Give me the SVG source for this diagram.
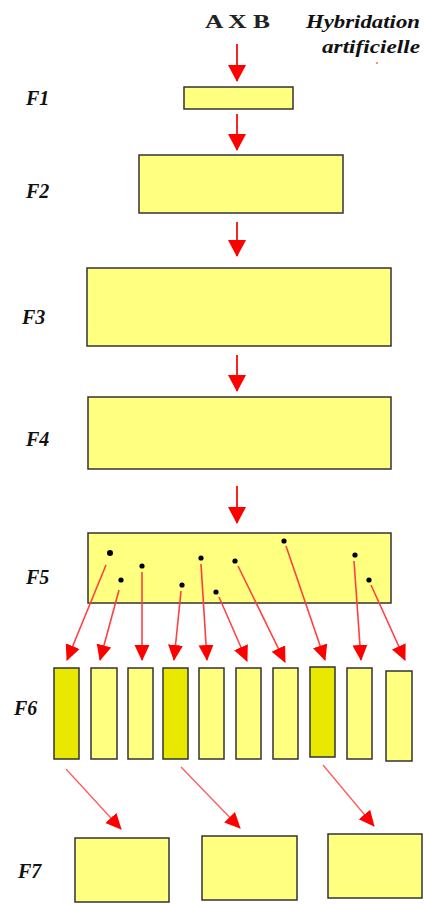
<svg xmlns="http://www.w3.org/2000/svg" width="424" height="904" viewBox="0 0 424 904">
<style>
.box{fill:#ffff80;stroke:#333;stroke-width:1.5}
.dark{fill:#e8e800;stroke:#333;stroke-width:1.5}
.lbl{font-family:"Liberation Serif",serif;font-weight:bold;font-style:italic;font-size:20px;fill:#111}
.main{stroke:#ff2020;stroke-width:2;fill:none;marker-end:url(#ah)}
.sel{stroke:#ff4040;stroke-width:1.6;fill:none;marker-end:url(#ah2)}
.thin{stroke:#ff5a5a;stroke-width:1.3;fill:none;marker-end:url(#ah2)}
.dot{fill:#000}
</style>
<defs>
<marker id="ah" markerWidth="20" markerHeight="20" refX="16" refY="10" orient="auto" markerUnits="userSpaceOnUse">
<path d="M0,1 L17,10 L0,19 Z" fill="#ff0000"/>
</marker>
<marker id="ah2" markerWidth="18" markerHeight="18" refX="15" refY="9" orient="auto" markerUnits="userSpaceOnUse">
<path d="M0,1.5 L16,9 L0,16.5 Z" fill="#ff0000"/>
</marker>
</defs>
<g id="title">
<text x="205" y="28" textLength="65" lengthAdjust="spacingAndGlyphs" font-family="'Liberation Serif',serif" font-weight="bold" font-size="19" fill="#222">A X B</text>
<text x="306" y="28" textLength="114" lengthAdjust="spacingAndGlyphs" font-family="'Liberation Serif',serif" font-weight="bold" font-style="italic" font-size="18" fill="#111">Hybridation</text>
<text x="322" y="53" textLength="98" lengthAdjust="spacingAndGlyphs" font-family="'Liberation Serif',serif" font-weight="bold" font-style="italic" font-size="18" fill="#111">artificielle</text>
<circle cx="377" cy="63" r="0.8" fill="#ff0000"/>
</g>
<g id="labels">
<text class="lbl" x="26" y="105">F1</text>
<text class="lbl" x="26" y="198">F2</text>
<text class="lbl" x="22" y="324">F3</text>
<text class="lbl" x="26" y="446">F4</text>
<text class="lbl" x="26" y="584">F5</text>
<text class="lbl" x="14" y="715">F6</text>
<text class="lbl" x="18" y="878">F7</text>
</g>
<g id="F1"><rect class="box" x="184" y="87" width="109" height="22"/></g>
<g id="F2"><rect class="box" x="139" y="155" width="204" height="58"/></g>
<g id="F3"><rect class="box" x="87" y="268" width="304" height="78"/></g>
<g id="F4"><rect class="box" x="88" y="397" width="303" height="72"/></g>
<g id="F5"><rect class="box" x="88" y="533" width="303" height="70"/>
<circle class="dot" cx="110" cy="553" r="3"/>
<circle class="dot" cx="121" cy="580" r="2.6"/>
<circle class="dot" cx="142" cy="566" r="2.6"/>
<circle class="dot" cx="182" cy="585" r="2.6"/>
<circle class="dot" cx="201" cy="558" r="2.6"/>
<circle class="dot" cx="216" cy="592" r="2.6"/>
<circle class="dot" cx="235" cy="561" r="2.6"/>
<circle class="dot" cx="284" cy="541" r="2.6"/>
<circle class="dot" cx="355" cy="555" r="2.6"/>
<circle class="dot" cx="369" cy="580" r="2.6"/>
</g>
<g id="F6">
<rect class="dark" x="54" y="668" width="25" height="91"/>
<rect class="box" x="91" y="668" width="26" height="91"/>
<rect class="box" x="128" y="668" width="25" height="91"/>
<rect class="dark" x="163" y="668" width="25" height="91"/>
<rect class="box" x="199" y="668" width="25" height="91"/>
<rect class="box" x="236" y="668" width="25" height="91"/>
<rect class="box" x="273" y="668" width="25" height="91"/>
<rect class="dark" x="310" y="667" width="25" height="90"/>
<rect class="box" x="347" y="668" width="25" height="91"/>
<rect class="box" x="386" y="671" width="26" height="90"/>
</g>
<g id="F7">
<rect class="box" x="75" y="838" width="94" height="64"/>
<rect class="box" x="202" y="836" width="95" height="64"/>
<rect class="box" x="328" y="834" width="94" height="64"/>
</g>
<g id="connectors">
<line class="main" x1="237" y1="44" x2="237" y2="81"/>
<line class="main" x1="237" y1="114" x2="237" y2="150"/>
<line class="main" x1="237" y1="222" x2="237" y2="256"/>
<line class="main" x1="237" y1="355" x2="237" y2="391"/>
<line class="main" x1="237" y1="486" x2="237" y2="523"/>
<line class="sel" x1="106" y1="565" x2="67" y2="660"/>
<line class="sel" x1="119" y1="590" x2="100" y2="660"/>
<line class="sel" x1="142" y1="572" x2="142" y2="660"/>
<line class="sel" x1="181" y1="591" x2="174" y2="660"/>
<line class="sel" x1="201" y1="564" x2="207" y2="660"/>
<line class="sel" x1="219" y1="597" x2="247" y2="661"/>
<line class="sel" x1="238" y1="566" x2="285" y2="662"/>
<line class="sel" x1="286" y1="546" x2="325" y2="660"/>
<line class="sel" x1="354" y1="561" x2="361" y2="660"/>
<line class="sel" x1="371" y1="585" x2="405" y2="660"/>
<line class="thin" x1="66" y1="769" x2="121" y2="829"/>
<line class="thin" x1="181" y1="767" x2="240" y2="828"/>
<line class="thin" x1="323" y1="765" x2="374" y2="826"/>
</g>
</svg>
